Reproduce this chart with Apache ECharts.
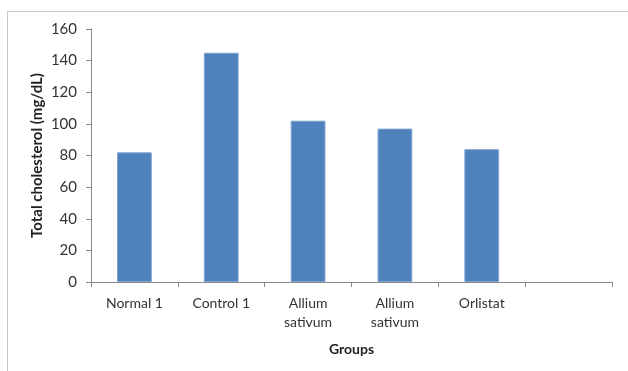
<!DOCTYPE html>
<html>
<head>
<meta charset="utf-8">
<script src="https://cdn.jsdelivr.net/npm/echarts@6/dist/echarts.min.js"></script>
<style>
  html, body { margin: 0; padding: 0; background: #fff; }
  #frame { position: absolute; left: 7px; top: 11px; width: 640px; height: 380px; border: 1px solid #c8c8c8; box-sizing: border-box; }
  #chart { position: absolute; left: 0; top: 0; width: 628px; height: 371px; }
</style>
</head>
<body>
<div id="frame"></div>
<div id="chart"></div>
<script>
// Group names along the x axis (the sixth slot is left empty)
const categories = ['Normal 1', 'Control 1', 'Allium\nsativum', 'Allium\nsativum', 'Orlistat', ''];
// Total cholesterol per group, mg/dL
const cholesterol = [82, 145, 102, 97, 84, null];
// Value axis ticks
const yTicks = [0, 20, 40, 60, 80, 100, 120, 140, 160];

const font = 'Lato, "Open Sans", sans-serif';
const chart = echarts.init(document.getElementById('chart'));
chart.setOption({
  animation: false,
  grid: { left: 91, right: 16, top: 29, bottom: 89 },
  xAxis: {
    type: 'category',
    data: categories,
    name: 'Groups',
    nameLocation: 'middle',
    nameGap: 60,
    nameMoveOverlap: false,
    nameTextStyle: { fontFamily: font, fontWeight: 'bold', fontSize: 14, color: '#222' },
    axisLine: { lineStyle: { color: '#888' } },
    axisTick: { show: true, alignWithLabel: false, length: 5, lineStyle: { color: '#888' } },
    axisLabel: { fontFamily: font, fontSize: 14, color: '#333', margin: 12, lineHeight: 19, interval: 0 }
  },
  yAxis: {
    type: 'value',
    min: yTicks[0],
    max: yTicks[yTicks.length - 1],
    interval: 20,
    name: 'Total cholesterol (mg/dL)',
    nameLocation: 'middle',
    nameGap: 46,
    nameMoveOverlap: false,
    nameTextStyle: { fontFamily: font, fontWeight: 'bold', fontSize: 15, color: '#222' },
    axisLine: { show: true, lineStyle: { color: '#888' } },
    axisTick: { show: true, length: 5, lineStyle: { color: '#888' } },
    splitLine: { show: false },
    axisLabel: { fontFamily: font, fontSize: 15, color: '#333', margin: 14 }
  },
  series: [{
    type: 'bar',
    data: cholesterol,
    barWidth: '40%',
    itemStyle: { color: '#4f81bd', borderColor: '#7fa3d0', borderWidth: 1 }
  }]
});
</script>
</body>
</html>
